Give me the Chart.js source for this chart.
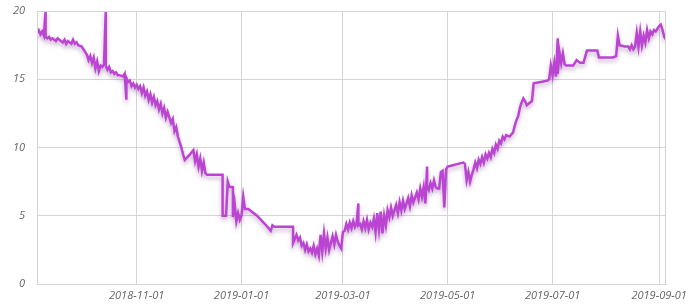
<!DOCTYPE html>
<html>
<head>
<meta charset="utf-8">
<script src="https://cdn.jsdelivr.net/npm/chart.js@4.4.0/dist/chart.umd.min.js"></script>
<style>
  body { margin: 0; background: #fff; }
</style>
</head>
<body>
<canvas id="chart" width="694" height="308"></canvas>
<script>
// readings (date, value)
const dates = [
  '2018-09-04','2018-09-05','2018-09-06','2018-09-07','2018-09-08','2018-09-09','2018-09-09','2018-09-10','2018-09-11','2018-09-12',
  '2018-09-13','2018-09-15','2018-09-16','2018-09-17','2018-09-19','2018-09-20','2018-09-21','2018-09-22','2018-09-24','2018-09-25',
  '2018-09-26','2018-09-27','2018-09-28','2018-09-30','2018-10-01','2018-10-02','2018-10-03','2018-10-04','2018-10-05','2018-10-06',
  '2018-10-07','2018-10-08','2018-10-09','2018-10-10','2018-10-11','2018-10-12','2018-10-13','2018-10-14','2018-10-14','2018-10-15',
  '2018-10-16','2018-10-17','2018-10-18','2018-10-19','2018-10-20','2018-10-21','2018-10-22','2018-10-24','2018-10-25','2018-10-26',
  '2018-10-26','2018-10-27','2018-10-28','2018-10-29','2018-10-30','2018-10-31','2018-11-01','2018-11-02','2018-11-03','2018-11-04',
  '2018-11-05','2018-11-06','2018-11-07','2018-11-08','2018-11-09','2018-11-10','2018-11-11','2018-11-12','2018-11-13','2018-11-14',
  '2018-11-15','2018-11-16','2018-11-17','2018-11-18','2018-11-19','2018-11-20','2018-11-21','2018-11-22','2018-11-23','2018-11-24',
  '2018-11-25','2018-11-26','2018-11-27','2018-11-28','2018-11-29','2018-12-02','2018-12-04','2018-12-05','2018-12-06','2018-12-07',
  '2018-12-08','2018-12-09','2018-12-10','2018-12-11','2018-12-12','2018-12-21','2018-12-21','2018-12-23','2018-12-24','2018-12-25',
  '2018-12-27','2018-12-27','2018-12-28','2018-12-29','2018-12-30','2018-12-31','2019-01-01','2019-01-02','2019-01-03','2019-01-05',
  '2019-01-07','2019-01-10','2019-01-13','2019-01-16','2019-01-18','2019-01-19','2019-01-20','2019-01-31','2019-01-31','2019-02-02',
  '2019-02-03','2019-02-04','2019-02-05','2019-02-06','2019-02-07','2019-02-08','2019-02-09','2019-02-10','2019-02-11','2019-02-12',
  '2019-02-13','2019-02-14','2019-02-15','2019-02-16','2019-02-17','2019-02-18','2019-02-19','2019-02-20','2019-02-21','2019-02-22',
  '2019-02-23','2019-02-24','2019-02-25','2019-02-26','2019-02-27','2019-02-28','2019-03-01','2019-03-02','2019-03-03','2019-03-04',
  '2019-03-05','2019-03-06','2019-03-07','2019-03-08','2019-03-09','2019-03-10','2019-03-10','2019-03-11','2019-03-12','2019-03-13',
  '2019-03-14','2019-03-15','2019-03-16','2019-03-17','2019-03-18','2019-03-19','2019-03-20','2019-03-21','2019-03-22','2019-03-23',
  '2019-03-24','2019-03-25','2019-03-26','2019-03-27','2019-03-28','2019-03-29','2019-03-30','2019-04-01','2019-04-02','2019-04-03',
  '2019-04-04','2019-04-05','2019-04-06','2019-04-08','2019-04-09','2019-04-10','2019-04-11','2019-04-13','2019-04-14','2019-04-15',
  '2019-04-16','2019-04-17','2019-04-18','2019-04-19','2019-04-19','2019-04-20','2019-04-21','2019-04-22','2019-04-23','2019-04-24',
  '2019-04-25','2019-04-26','2019-04-27','2019-04-28','2019-04-29','2019-04-30','2019-05-01','2019-05-04','2019-05-07','2019-05-10',
  '2019-05-11','2019-05-12','2019-05-13','2019-05-14','2019-05-15','2019-05-16','2019-05-17','2019-05-18','2019-05-19','2019-05-20',
  '2019-05-21','2019-05-22','2019-05-23','2019-05-24','2019-05-25','2019-05-26','2019-05-27','2019-05-28','2019-05-29','2019-05-30',
  '2019-05-31','2019-06-01','2019-06-02','2019-06-03','2019-06-04','2019-06-06','2019-06-08','2019-06-09','2019-06-10','2019-06-11',
  '2019-06-12','2019-06-13','2019-06-14','2019-06-15','2019-06-16','2019-06-17','2019-06-19','2019-06-20','2019-06-24','2019-06-28',
  '2019-06-29','2019-06-30','2019-07-01','2019-07-02','2019-07-03','2019-07-04','2019-07-04','2019-07-05','2019-07-06','2019-07-07',
  '2019-07-08','2019-07-09','2019-07-13','2019-07-15','2019-07-17','2019-07-19','2019-07-21','2019-07-27','2019-07-28','2019-08-05',
  '2019-08-07','2019-08-08','2019-08-09','2019-08-12','2019-08-14','2019-08-15','2019-08-16','2019-08-17','2019-08-18','2019-08-19',
  '2019-08-20','2019-08-21','2019-08-22','2019-08-23','2019-08-24','2019-08-25','2019-08-26','2019-08-27','2019-08-28','2019-08-29',
  '2019-08-30','2019-08-31','2019-09-01','2019-09-02','2019-09-03','2019-09-04','2019-09-05'
];
const values = [
  18.4,18.6,18.3,18.5,18.2,20.0,18.1,18.0,18.1,17.9,
  18.0,17.8,18.0,17.9,17.7,17.9,17.6,17.8,17.6,17.9,
  17.6,17.7,17.5,17.4,17.2,17.0,16.8,16.4,16.7,16.2,
  16.6,15.8,16.3,15.6,16.0,15.9,16.1,20.0,16.0,15.7,
  15.9,15.5,15.6,15.4,15.5,15.3,15.3,15.2,15.4,13.5,
  15.1,14.8,14.9,14.5,14.7,14.4,14.6,14.3,14.5,14.0,
  14.4,13.8,14.1,13.5,13.9,13.3,13.7,13.1,13.4,12.8,
  13.2,12.5,12.9,12.2,12.6,12.2,11.8,12.1,11.2,11.5,
  10.8,10.4,10.0,9.5,9.1,9.5,9.8,9.0,9.5,8.6,
  9.2,8.3,8.9,8.1,8.0,8.0,5.0,5.0,7.5,7.1,
  7.1,4.9,5.9,4.6,5.2,4.7,5.0,6.4,5.5,5.5,
  5.3,5.0,4.6,4.2,3.9,4.3,4.2,4.2,3.0,3.6,
  3.2,3.4,2.8,3.0,2.5,2.9,2.4,2.6,2.3,2.8,
  2.2,2.6,2.1,3.6,2.4,3.7,2.6,3.4,2.5,3.0,
  3.5,2.9,3.6,3.1,2.8,2.6,3.8,3.9,4.4,4.0,
  4.5,4.1,4.6,4.2,4.5,5.9,4.3,4.4,4.0,4.6,
  4.1,4.7,4.0,4.5,4.2,4.8,3.8,5.2,4.0,5.3,
  3.7,5.0,4.3,5.4,4.9,5.6,5.0,5.8,5.2,6.0,
  5.4,6.1,5.5,6.3,5.7,6.5,6.0,6.7,6.2,7.0,
  6.4,7.1,5.9,8.6,7.2,6.9,7.4,7.0,7.6,7.1,
  7.0,7.0,8.2,8.3,5.6,8.4,8.6,8.7,8.8,8.9,
  8.8,7.6,8.2,7.5,8.0,8.4,8.9,8.5,9.1,8.8,
  9.3,8.9,9.5,9.2,9.6,9.3,9.9,9.6,10.2,9.9,
  10.5,10.3,10.8,10.6,10.9,10.8,11.1,11.6,12.0,12.3,
  12.9,13.3,13.6,13.4,13.1,13.2,13.4,14.7,14.8,14.9,
  15.0,16.0,15.3,16.2,15.2,18.0,15.4,17.0,16.2,16.9,
  16.1,16.0,16.0,16.4,16.2,16.2,17.1,17.1,16.6,16.6,
  16.7,18.2,17.5,17.4,17.4,17.2,17.5,17.2,17.4,18.4,
  17.4,18.5,17.5,18.2,17.7,18.6,18.0,18.5,18.3,18.6,
  18.5,18.7,18.9,19.0,18.6,18.1,17.9
];
const tickDates = ['2018-11-01','2019-01-01','2019-03-01','2019-05-01','2019-07-01','2019-09-01'];
const yTicks = [0, 5, 10, 15, 20];

const gridColor = '#d4d4d4';
const tickFont = { family: 'Open Sans', size: 11, style: 'italic' };

const points = dates.map((d, i) => ({ x: Date.parse(d), y: values[i] }));

const shadow = {
  id: 'shadow',
  beforeDatasetDraw(chart) {
    const c = chart.ctx;
    c.save();
    c.shadowColor = 'rgba(100, 30, 120, 0.35)';
    c.shadowBlur = 4;
    c.shadowOffsetY = 3;
  },
  afterDatasetDraw(chart) {
    chart.ctx.restore();
  }
};

const frame = {
  id: 'frame',
  afterDraw(chart) {
    const a = chart.chartArea, c = chart.ctx;
    c.save();
    c.strokeStyle = gridColor;
    c.lineWidth = 1;
    c.strokeRect(a.left + 0.5, a.top + 0.5, a.right - a.left - 1, a.bottom - a.top);
    c.restore();
  }
};

new Chart(document.getElementById('chart'), {
  type: 'line',
  plugins: [shadow, frame],
  data: {
    datasets: [{
      data: points,
      borderColor: '#bb45d2',
      borderWidth: 2.5,
      pointRadius: 0,
      tension: 0,
      fill: false
    }]
  },
  options: {
    responsive: false,
    animation: false,
    layout: { padding: { top: 11, right: 28, left: 0, bottom: 0 } },
    plugins: { legend: { display: false }, tooltip: { enabled: false } },
    scales: {
      x: {
        type: 'linear',
        min: Date.parse(dates[0]),
        max: Date.parse(dates[dates.length - 1]),
        afterFit: s => { s.height = 24; },
        afterBuildTicks: s => { s.ticks = tickDates.map(d => ({ value: Date.parse(d) })); },
        grid: { color: gridColor, drawTicks: false },
        border: { color: gridColor },
        ticks: {
          font: tickFont,
          color: '#666',
          padding: 5,
          maxRotation: 0,
          autoSkip: false,
          callback: v => new Date(v).toISOString().slice(0, 10)
        }
      },
      y: {
        min: 0,
        max: 20,
        afterFit: s => { s.width = 37; s.paddingTop = 0; s.paddingBottom = 0; },
        afterBuildTicks: s => { s.ticks = yTicks.map(v => ({ value: v })); },
        grid: { color: gridColor, drawTicks: false },
        border: { color: gridColor },
        ticks: { font: tickFont, color: '#666', padding: 12 }
      }
    }
  }
});
</script>
</body>
</html>
